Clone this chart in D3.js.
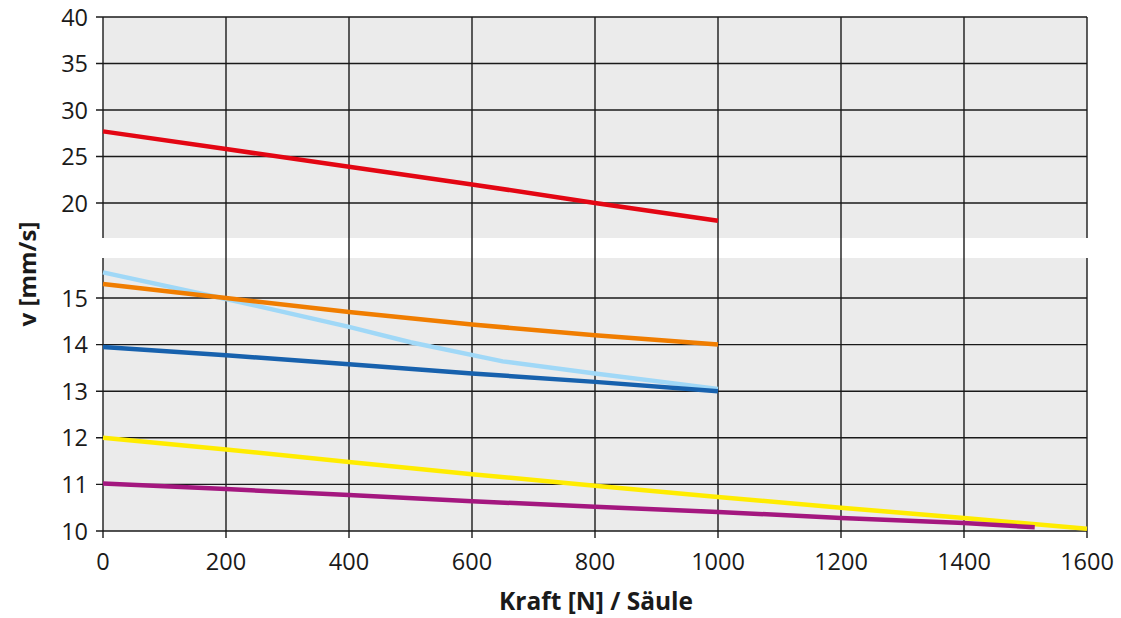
<!DOCTYPE html>
<html>
<head>
<meta charset="utf-8">
<script src="https://cdn.jsdelivr.net/npm/d3@7"></script>
<style>
  body { margin: 0; background: #fff; }
  svg { display: block; font-family: "Open Sans", "Noto Sans", sans-serif; }
</style>
</head>
<body>
<div id="chart"></div>
<script>
// Daten
const xTicks = [0, 200, 400, 600, 800, 1000, 1200, 1400, 1600];
const yTicksTop = [20, 25, 30, 35, 40];
const yTicksBottom = [10, 11, 12, 13, 14, 15];

const redLine = [[0, 27.7], [200, 25.8], [400, 23.9], [600, 22.0], [800, 20.0], [1000, 18.1]];
const orangeLine = [[0, 15.3], [200, 15.0], [400, 14.7], [600, 14.43], [800, 14.2], [1000, 14.0]];
const lightBlueLine = [[0, 15.55], [200, 14.98], [400, 14.38], [500, 14.05], [650, 13.64], [800, 13.38], [1000, 13.05]];
const blueLine = [[0, 13.95], [200, 13.77], [400, 13.58], [600, 13.38], [800, 13.2], [1000, 13.0]];
const yellowLine = [[0, 12.0], [200, 11.75], [400, 11.48], [600, 11.22], [800, 10.97], [1000, 10.73], [1200, 10.5], [1400, 10.28], [1600, 10.05]];
const purpleLine = [[0, 11.02], [200, 10.9], [400, 10.77], [600, 10.64], [800, 10.52], [1000, 10.41], [1200, 10.28], [1400, 10.17], [1515, 10.08]];

const width = 1121, height = 618;
const svg = d3.select("#chart").append("svg").attr("width", width).attr("height", height);

const x = d3.scaleLinear().domain([0, 1600]).range([103, 1087]);
// oberer Bereich (20–40) und unterer Bereich (10–15), Achse unterbrochen
const yTop = d3.scaleLinear().domain([20, 40]).range([203, 17]);
const yBot = d3.scaleLinear().domain([10, 15]).range([531, 298]);
const gapTop = 238, gapBottom = 258;
const plotTop = yTop(40), plotBottom = yBot(10);

// Hintergrund
svg.append("rect").attr("x", x(0)).attr("y", plotTop)
  .attr("width", x(1600) - x(0)).attr("height", plotBottom - plotTop).attr("fill", "#ebebeb");
svg.append("rect").attr("x", x(0) - 2).attr("y", gapTop)
  .attr("width", x(1600) - x(0) + 4).attr("height", gapBottom - gapTop).attr("fill", "#fff");

const grid = svg.append("g").attr("stroke", "#1a1a1a").attr("stroke-width", 1.4);

// vertikale Gitterlinien (innen durchgehend)
grid.selectAll(".vx").data(xTicks.filter(d => d > 0 && d < 1600)).join("line")
  .attr("x1", d => x(d)).attr("x2", d => x(d))
  .attr("y1", plotTop).attr("y2", plotBottom + 7);
// Ticks unten bei 0 und 1600
grid.selectAll(".vt").data([0, 1600]).join("line")
  .attr("x1", d => x(d)).attr("x2", d => x(d))
  .attr("y1", plotBottom).attr("y2", plotBottom + 7);

// Rahmen links/rechts, je Bereich
[[plotTop, gapTop], [gapBottom, plotBottom]].forEach(([a, b]) => {
  [0, 1600].forEach(v => {
    grid.append("line").attr("x1", x(v)).attr("x2", x(v)).attr("y1", a).attr("y2", b);
  });
});

// horizontale Gitterlinien + Ticks
grid.selectAll(".ht").data(yTicksTop).join("line")
  .attr("x1", x(0) - 7).attr("x2", x(1600))
  .attr("y1", d => yTop(d)).attr("y2", d => yTop(d));
grid.selectAll(".hb").data(yTicksBottom).join("line")
  .attr("x1", x(0) - 7).attr("x2", x(1600))
  .attr("y1", d => yBot(d)).attr("y2", d => yBot(d));

// Beschriftungen
const lab = svg.append("g").attr("fill", "#1a1a1a").style("font-size", "23.5px");
lab.selectAll(".yl1").data(yTicksTop).join("text")
  .attr("x", 88).attr("y", d => yTop(d) + 8.5).attr("text-anchor", "end").text(d => d);
lab.selectAll(".yl2").data(yTicksBottom).join("text")
  .attr("x", 88).attr("y", d => yBot(d) + 8.5).attr("text-anchor", "end").text(d => d);
lab.selectAll(".xl").data(xTicks).join("text")
  .attr("x", d => x(d)).attr("y", 570).attr("text-anchor", "middle").text(d => d);

svg.append("text").attr("x", 596).attr("y", 610).attr("text-anchor", "middle")
  .style("font-size", "24.5px").style("font-weight", "bold").attr("fill", "#1a1a1a")
  .text("Kraft [N] / Säule");
svg.append("text").attr("transform", "translate(36,274) rotate(-90)").attr("text-anchor", "middle")
  .style("font-size", "24px").style("font-weight", "bold").attr("fill", "#1a1a1a")
  .text("v [mm/s]");

// Kurven
const lineTop = d3.line().x(d => x(d[0])).y(d => yTop(d[1]));
const lineBot = d3.line().x(d => x(d[0])).y(d => yBot(d[1]));

const series = [
  { data: redLine, color: "#e30613", gen: lineTop },
  { data: lightBlueLine, color: "#a0d8f7", gen: lineBot },
  { data: orangeLine, color: "#f07d00", gen: lineBot },
  { data: blueLine, color: "#1761ad", gen: lineBot },
  { data: yellowLine, color: "#ffec00", gen: lineBot },
  { data: purpleLine, color: "#a4177f", gen: lineBot },
];
svg.append("g").selectAll("path").data(series).join("path")
  .attr("d", s => s.gen(s.data))
  .attr("fill", "none")
  .attr("stroke", s => s.color)
  .attr("stroke-width", 4.5);
</script>
</body>
</html>
